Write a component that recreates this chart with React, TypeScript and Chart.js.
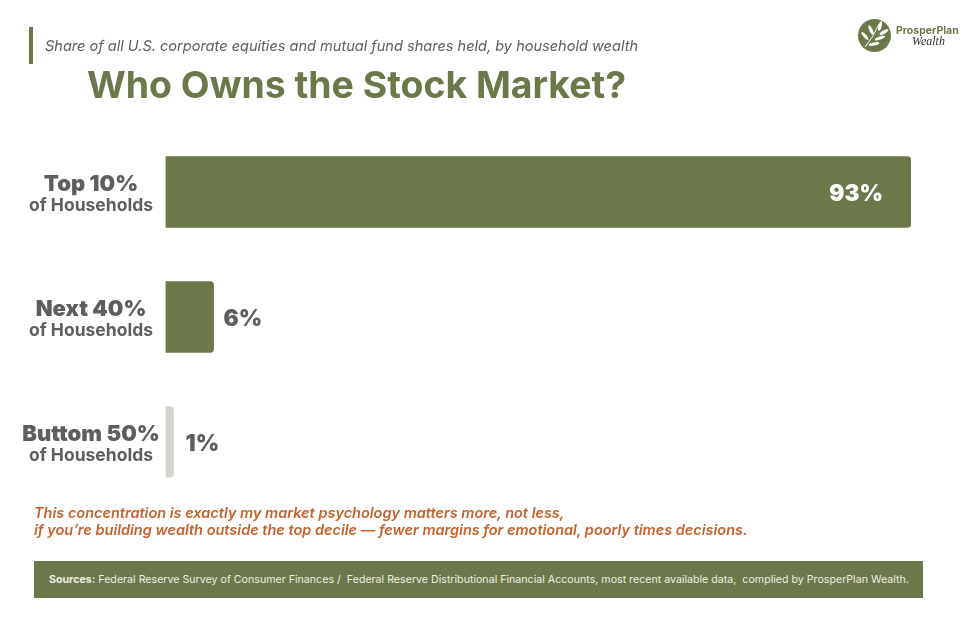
import {useRef, useEffect} from "react";
import Chart from "chart.js/auto";

const groups = ["Top 10%", "Next 40%", "Buttom 50%"];
const groupNotes = ["of Households", "of Households", "of Households"];
const shares = [93, 6, 1];

const GREEN = "#6b7849";
const GREY = "#5e5e5e";
const ORANGE = "#c4622d";
const FONT = "Inter, 'Open Sans', sans-serif";

// draws the two-line category labels and the value labels next to the bars
const barLabels = {
  id: "barLabels",
  afterDatasetsDraw(chart: any) {
    const ctx = chart.ctx;
    const bars = chart.getDatasetMeta(0).data;
    ctx.save();
    bars.forEach((bar: any, i: number) => {
      ctx.textBaseline = "alphabetic";
      ctx.textAlign = "center";
      ctx.fillStyle = GREY;
      ctx.font = `900 22px ${FONT}`;
      ctx.fillText(groups[i], 91, bar.y - 1);
      ctx.font = `700 17.5px ${FONT}`;
      ctx.fillText(groupNotes[i], 91, bar.y + 19);

      ctx.font = `900 22.5px ${FONT}`;
      const text = `${shares[i]}%`;
      if (shares[i] > 50) {
        ctx.textAlign = "right";
        ctx.fillStyle = "#ffffff";
        ctx.fillText(text, bar.x - 28, bar.y + 9);
      } else {
        ctx.textAlign = "left";
        ctx.fillStyle = GREY;
        ctx.fillText(text, bar.x + (shares[i] > 3 ? 10 : 12), bar.y + 9);
      }
    });
    ctx.restore();
  },
};

const Logo = () => (
  <div style={{position: "absolute", left: 0, top: 0}}>
    <svg width={975} height={70} style={{position: "absolute", left: 0, top: 0}}>
      <circle cx={874.5} cy={35.5} r={16.5} fill={GREEN} />
      <path d="M865 47 Q873 38 879 24" stroke="#fff" strokeWidth={1} fill="none" />
      <g fill="#fff">
        <ellipse cx={880} cy={26} rx={1.6} ry={5} transform="rotate(15 880 26)" />
        <ellipse cx={884} cy={32} rx={1.6} ry={5} transform="rotate(60 884 32)" />
        <ellipse cx={871} cy={30} rx={1.6} ry={5} transform="rotate(-25 871 30)" />
        <ellipse cx={880} cy={38} rx={1.6} ry={5.5} transform="rotate(70 880 38)" />
        <ellipse cx={865} cy={36} rx={1.6} ry={5} transform="rotate(-40 865 36)" />
        <ellipse cx={874} cy={44} rx={1.6} ry={5.5} transform="rotate(80 874 44)" />
      </g>
    </svg>
    <div style={{position: "absolute", left: 896, top: 24, font: `700 10.5px ${FONT}`, color: GREEN, whiteSpace: "nowrap"}}>
      ProsperPlan
    </div>
    <div style={{position: "absolute", left: 912, top: 34, font: "italic 12px 'Liberation Serif', serif", color: "#333", whiteSpace: "nowrap"}}>
      Wealth
    </div>
  </div>
);

const App = () => {
  const canvasRef = useRef<HTMLCanvasElement | null>(null);

  useEffect(() => {
    if (!canvasRef.current) return;
    const chart = new Chart(canvasRef.current, {
      type: "bar",
      data: {
        labels: groups,
        datasets: [
          {
            data: shares,
            backgroundColor: [GREEN, GREEN, "#d3d5ca"],
            borderRadius: {topRight: 4, bottomRight: 4, topLeft: 0, bottomLeft: 0},
            borderSkipped: false,
            barThickness: 71,
          },
        ],
      },
      options: {
        indexAxis: "y",
        responsive: false,
        animation: false,
        layout: {padding: {left: 165.5, right: 64, top: 129.5, bottom: 114.5}},
        plugins: {legend: {display: false}, tooltip: {enabled: false}},
        scales: {
          x: {display: false, min: 0, max: 93, grid: {display: false}},
          y: {display: false, grid: {display: false}},
        },
      },
      plugins: [barLabels],
    });
    return () => chart.destroy();
  }, []);

  return (
    <div style={{position: "absolute", left: 0, top: 0, width: 975, height: 619, background: "#fff", overflow: "hidden"}}>
      <canvas ref={canvasRef} width={975} height={619} style={{position: "absolute", left: 0, top: 0}} />
      <div style={{position: "absolute", left: 29, top: 27, width: 4, height: 37, background: GREEN}} />
      <div style={{position: "absolute", left: 45, top: 37, font: `italic 400 14.55px ${FONT}`, color: GREY, whiteSpace: "nowrap"}}>
        Share of all U.S. corporate equities and mutual fund shares held, by household wealth
      </div>
      <div style={{position: "absolute", left: 87, top: 62, font: `700 37.4px ${FONT}`, color: GREEN, whiteSpace: "nowrap"}}>
        Who Owns the Stock Market?
      </div>
      <Logo />
      <div style={{position: "absolute", left: 34, top: 505, font: `italic 600 14.5px/16.5px ${FONT}`, color: ORANGE, whiteSpace: "nowrap"}}>
        This concentration is exactly my market psychology matters more, not less,
        <br />
        if you’re building wealth outside the top decile — fewer margins for emotional, poorly times decisions.
      </div>
      <div style={{position: "absolute", left: 33.5, top: 561, width: 889, height: 37, background: GREEN}} />
      <div style={{position: "absolute", left: 49, top: 573, font: `400 10.65px ${FONT}`, color: "#eceee4", whiteSpace: "pre"}}>
        <b>Sources:</b> Federal Reserve Survey of Consumer Finances /  Federal Reserve Distributional Financial Accounts, most recent available data,  complied by ProsperPlan Wealth.
      </div>
    </div>
  );
};

export default App;
